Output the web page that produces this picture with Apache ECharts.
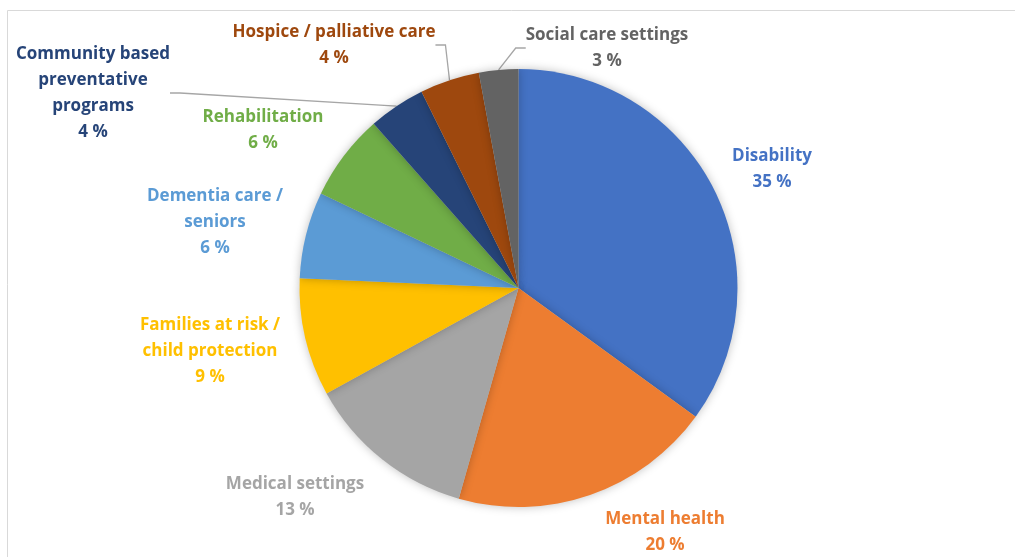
<!DOCTYPE html>
<html>
<head>
<meta charset="utf-8">
<script src="https://cdn.jsdelivr.net/npm/echarts@6/dist/echarts.min.js"></script>
<style>
  html, body { margin: 0; padding: 0; background: #fff; }
  #chart { width: 1015px; height: 557px; }
</style>
</head>
<body>
<div id="chart"></div>
<script>
const categories = [
  'Disability',
  'Mental health',
  'Medical settings',
  'Families at risk /\nchild protection',
  'Dementia care /\nseniors',
  'Rehabilitation',
  'Community based\npreventative\nprograms',
  'Hospice / palliative care',
  'Social care settings'
]
// slice sizes
const values = [35.0, 19.4, 12.6, 8.7, 6.4, 6.4, 4.2, 4.4, 2.9]
// percentages printed on the labels
const pctLabels = [35, 20, 13, 9, 6, 6, 4, 4, 3]

const colors = ['#4472C4', '#ED7D31', '#A5A5A5', '#FFC000', '#5B9BD5', '#70AD47', '#264478', '#9E480E', '#636363']
// label centres, placed as in the original
const labelPos = [
  [772, 169], [665, 532], [295, 497], [210, 351], [215, 222],
  [263, 130], [93, 93], [334, 45], [607, 48]
]
const withLine = [6, 7, 8]

const chart = echarts.init(document.getElementById('chart'))

chart.setOption({
  animation: false,
  graphic: [{
    type: 'rect',
    shape: { x: 7.5, y: 10.5, width: 1100, height: 600 },
    style: { fill: 'none', stroke: '#d9d9d9', lineWidth: 1 },
    silent: true
  }],
  series: [{
    type: 'pie',
    center: [518.5, 288],
    radius: 219,
    startAngle: 90,
    clockwise: true,
    itemStyle: {
      shadowBlur: 10,
      shadowColor: 'rgba(0,0,0,0.25)'
    },
    label: {
      show: true,
      position: 'outside',
      formatter: p => p.name + '\n' + pctLabels[p.dataIndex] + ' %',
      fontFamily: 'Open Sans',
      fontWeight: 'bold',
      fontSize: 17,
      lineHeight: 26,
      align: 'center'
    },
    labelLine: {
      show: false,
      length: 10,
      length2: 10,
      lineStyle: { color: '#a6a6a6', width: 1.3 }
    },
    labelLayout: p => ({
      x: labelPos[p.dataIndex][0],
      y: labelPos[p.dataIndex][1],
      align: 'center',
      verticalAlign: 'middle'
    }),
    data: categories.map((name, i) => ({
      name: name,
      value: values[i],
      itemStyle: { color: colors[i] },
      label: { color: colors[i] },
      labelLine: { show: withLine.includes(i) }
    }))
  }]
})
</script>
</body>
</html>
